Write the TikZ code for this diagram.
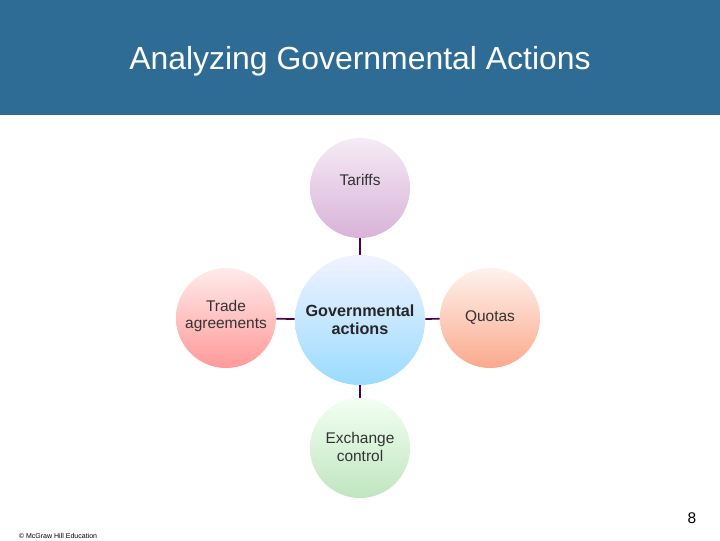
\documentclass[tikz,border=0pt]{standalone}
\usepackage{fontspec}
\setmainfont{Liberation Sans}
\tikzset{
  x=0.025cm, y=-0.025cm,
  bubble/.style={circle, minimum size=100*0.025cm, inner sep=0pt, align=center,
    font=\fontsize{11}{12.5}\selectfont, text=black!80},
  link/.style={very thick, draw=violet!60!black},
}
\definecolor{band}{HTML}{2E6C96}
\definecolor{peach}{HTML}{FBA98C}
\begin{document}
\begin{tikzpicture}
  \useasboundingbox (0,0) rectangle (720,540);
  \fill[band] (0,0) rectangle (720,115);
  \node[text=white, font=\fontsize{22.7}{26}\selectfont] (title) at (360,61) {Analyzing Governmental Actions};
  % outer circles
  \node[bubble, top color=violet!8, bottom color=violet!30] (tariffs) at (360,188) {};
  \node[font=\fontsize{11}{12.5}\selectfont, text=black!80] (tariffsT) at (360,180) {Tariffs};
  \node[bubble, top color=red!8, bottom color=red!40] (trade) at (226,318) {};
  \node[align=center, font=\fontsize{11}{12.5}\selectfont, text=black!80] (tradeT) at (226,316) {Trade\\agreements};
  \node[bubble, top color=peach!15, bottom color=peach] (quotas) at (490,318) {Quotas};
  \node[bubble, top color=green!5, bottom color=green!60!black!25] (exchange) at (360,448) {};
  \node[align=center, font=\fontsize{11}{12.5}\selectfont, text=black!80] (exchangeT) at (360,447) {Exchange\\control};
  % centre
  \node[bubble, minimum size=130*0.025cm, top color=blue!5, bottom color=blue!35!cyan!40, font=\fontsize{11.5}{13}\bfseries\selectfont, text=black!85] (gov) at (360,320) {Governmental\\actions};
  \draw[link] (gov) -- (tariffs);
  \draw[link] (gov) -- (trade);
  \draw[link] (gov) -- (quotas);
  \draw[link] (gov) -- (exchange);
  % footer
  \node[font=\fontsize{5}{6}\selectfont] (copy) at (58,536) {\textcopyright{} McGraw Hill Education};
  \node[font=\fontsize{11}{12}\selectfont] (page) at (692,518) {8};
\end{tikzpicture}
\end{document}
